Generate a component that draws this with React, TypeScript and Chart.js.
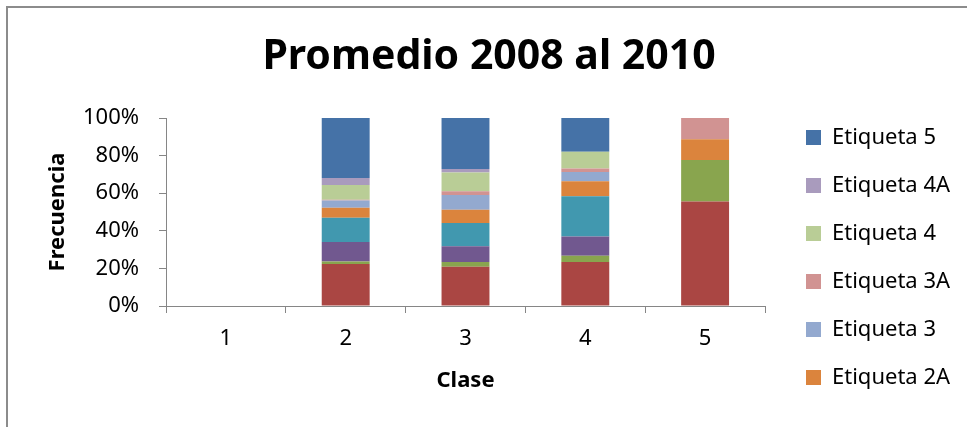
import React, { useEffect, useRef } from 'react';
import { Chart, registerables } from 'chart.js';

Chart.register(...registerables);

const categories = ['1', '2', '3', '4', '5'];
const yTickValues = [0, 20, 40, 60, 80, 100];

const seriesNames = [
  'Etiqueta 0',
  'Etiqueta 1',
  'Etiqueta 1A',
  'Etiqueta 2',
  'Etiqueta 2A',
  'Etiqueta 3',
  'Etiqueta 3A',
  'Etiqueta 4',
  'Etiqueta 4A',
  'Etiqueta 5',
];

const etiqueta0 = [0, 22.3, 20.9, 23.4, 55.6];
const etiqueta1 = [0, 1.4, 2.5, 3.3, 22.1];
const etiqueta1A = [0, 10.3, 8.4, 10.3, 0];
const etiqueta2 = [0, 12.9, 12.3, 21.4, 0];
const etiqueta2A = [0, 5.3, 7.1, 8.0, 11.0];
const etiqueta3 = [0, 3.9, 7.9, 4.9, 0];
const etiqueta3A = [0, 0.4, 1.9, 1.8, 11.3];
const etiqueta4 = [0, 7.9, 10.0, 9.0, 0];
const etiqueta4A = [0, 3.7, 1.9, 0, 0];
const etiqueta5 = [0, 31.9, 27.1, 17.9, 0];

const seriesValues = [
  etiqueta0,
  etiqueta1,
  etiqueta1A,
  etiqueta2,
  etiqueta2A,
  etiqueta3,
  etiqueta3A,
  etiqueta4,
  etiqueta4A,
  etiqueta5,
];

const seriesColors = [
  '#AA4643',
  '#89A54E',
  '#71588F',
  '#4198AF',
  '#DB843D',
  '#93A9CF',
  '#D19392',
  '#B9CD96',
  '#A99BBD',
  '#4572A7',
];

const FONT = "'Noto Sans', 'DejaVu Sans', sans-serif";
const AXIS_GRAY = '#868686';

export default function App() {
  const canvasRef = useRef<HTMLCanvasElement>(null);

  useEffect(() => {
    if (!canvasRef.current) return;
    const chart = new Chart(canvasRef.current, {
      type: 'bar',
      data: {
        labels: categories,
        datasets: seriesNames.map((name, i) => ({
          label: name,
          data: seriesValues[i],
          backgroundColor: seriesColors[i],
          borderWidth: 0,
          categoryPercentage: 1,
          barPercentage: 0.4,
        })),
      },
      options: {
        responsive: false,
        animation: false,
        devicePixelRatio: 1,
        layout: { padding: { left: 19, right: 8, top: 0, bottom: 0 } },
        plugins: {
          title: {
            display: true,
            text: 'Promedio 2008 al 2010',
            color: '#000',
            font: { family: FONT, size: 41, weight: 'bold' },
            padding: { top: 32.5, bottom: 36.3 },
          },
          legend: {
            display: true,
            position: 'right',
            align: 'start',
            reverse: true,
            maxWidth: 179,
            title: {
              display: true,
              text: ' ',
              font: { family: FONT, size: 10 },
              padding: { top: 88.5, bottom: 0 },
            },
            labels: {
              boxWidth: 15,
              boxHeight: 15,
              padding: 26,
              color: '#000',
              font: { family: FONT, size: 22 },
              filter: (item: any) => item.datasetIndex >= 4,
            },
          },
          tooltip: { enabled: false },
        },
        scales: {
          x: {
            stacked: true,
            grid: {
              display: true,
              drawOnChartArea: false,
              drawTicks: true,
              tickLength: 7,
              color: AXIS_GRAY,
              offset: true,
            },
            border: { display: true, color: AXIS_GRAY, width: 1 },
            ticks: {
              color: '#000',
              font: { family: FONT, size: 22 },
              padding: 13,
              maxRotation: 0,
            },
            title: {
              display: true,
              text: 'Clase',
              color: '#000',
              font: { family: FONT, size: 22, weight: 'bold' },
              padding: { top: 10, bottom: 33.5 },
            },
            afterFit: (s: any) => {
              s.height = 121;
            },
          },
          y: {
            stacked: true,
            min: 0,
            max: 100,
            afterBuildTicks: (s: any) => {
              s.ticks = yTickValues.map((v) => ({ value: v }));
            },
            grid: {
              display: true,
              drawOnChartArea: false,
              drawTicks: true,
              tickLength: 7,
              color: AXIS_GRAY,
            },
            border: { display: true, color: AXIS_GRAY, width: 1 },
            ticks: {
              color: '#000',
              font: { family: FONT, size: 22 },
              padding: 20,
              callback: (v: any) => v + '%',
            },
            title: {
              display: true,
              text: 'Frecuencia',
              color: '#000',
              font: { family: FONT, size: 22, weight: 'bold' },
              padding: { top: 26, bottom: 10 },
            },
            afterFit: (s: any) => {
              s.width = 147;
            },
          },
          spacer: {
            type: 'linear',
            position: 'right',
            display: true,
            grid: { display: false },
            border: { display: false },
            ticks: { display: false },
            afterFit: (s: any) => {
              s.width = 15;
            },
          },
        },
      } as any,
    });
    return () => chart.destroy();
  }, []);

  return (
    <div
      style={{
        position: 'fixed',
        left: 0,
        top: 0,
        width: 967,
        height: 427,
        overflow: 'hidden',
        background: '#fff',
      }}
    >
      <div
        style={{
          position: 'absolute',
          left: 6,
          top: 6,
          width: 1100,
          height: 600,
          border: '2px solid #8c8c8c',
        }}
      />
      <canvas
        ref={canvasRef}
        width={967}
        height={427}
        style={{ position: 'absolute', left: 0, top: 0, width: 967, height: 427 }}
      />
    </div>
  );
}
